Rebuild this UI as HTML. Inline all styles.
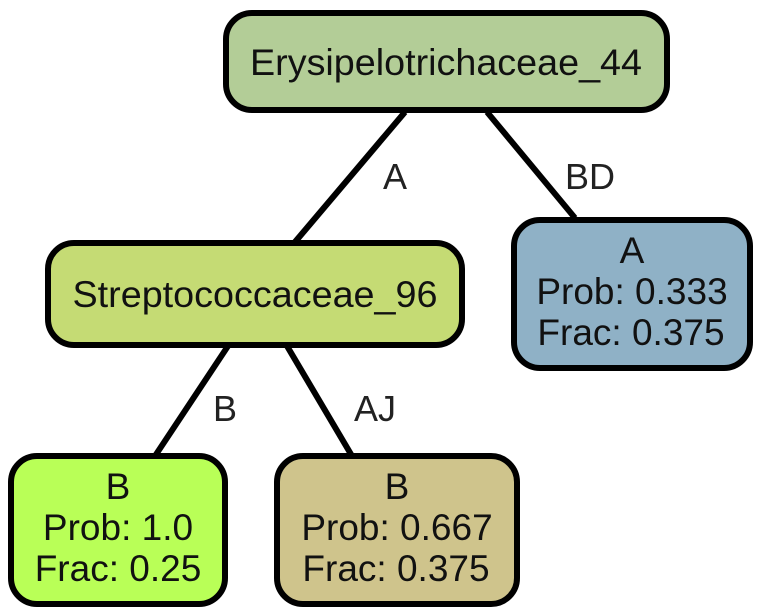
<!DOCTYPE html>
<html><head><style>body{margin:0;background:#fff}svg{display:block}</style></head><body>
<svg width="763" height="613" viewBox="0 0 763 613" xmlns="http://www.w3.org/2000/svg" font-family="Liberation Sans, Arial, sans-serif">
<g stroke="#000" stroke-width="6" fill="none">
<line x1="405" y1="112" x2="295" y2="242"/>
<line x1="487" y1="112" x2="575" y2="218"/>
<line x1="228" y1="346" x2="155" y2="456"/>
<line x1="287" y1="346" x2="352" y2="456"/>
</g>
<g font-size="36" fill="#222">
<text x="395" y="189" text-anchor="middle">A</text>
<text x="590" y="189" text-anchor="middle">BD</text>
<text x="225" y="421" text-anchor="middle">B</text>
<text x="375" y="421" text-anchor="middle">AJ</text>
</g>
<g stroke="#000" stroke-width="6">
<rect x="226" y="13" width="441" height="97" rx="26" fill="#b3cd97"/>
<rect x="48" y="243" width="414" height="102" rx="26" fill="#c5db74"/>
<rect x="514" y="220" width="236" height="148" rx="26" fill="#8fb1c6"/>
<rect x="11" y="456" width="214" height="148" rx="26" fill="#b9ff57"/>
<rect x="277" y="456" width="240" height="148" rx="26" fill="#cfc48c"/>
</g>
<g font-size="37" fill="#111" text-anchor="middle">
<text x="446" y="75" textLength="392" lengthAdjust="spacingAndGlyphs">Erysipelotrichaceae_44</text>
<text x="255" y="307" textLength="365" lengthAdjust="spacingAndGlyphs">Streptococcaceae_96</text>
<text x="632" y="263">A</text>
<text x="632" y="304">Prob: 0.333</text>
<text x="631" y="345">Frac: 0.375</text>
<text x="118" y="499">B</text>
<text x="118" y="540">Prob: 1.0</text>
<text x="118" y="581">Frac: 0.25</text>
<text x="397" y="499">B</text>
<text x="397" y="540">Prob: 0.667</text>
<text x="396" y="581">Frac: 0.375</text>
</g>
</svg>
</body></html>
